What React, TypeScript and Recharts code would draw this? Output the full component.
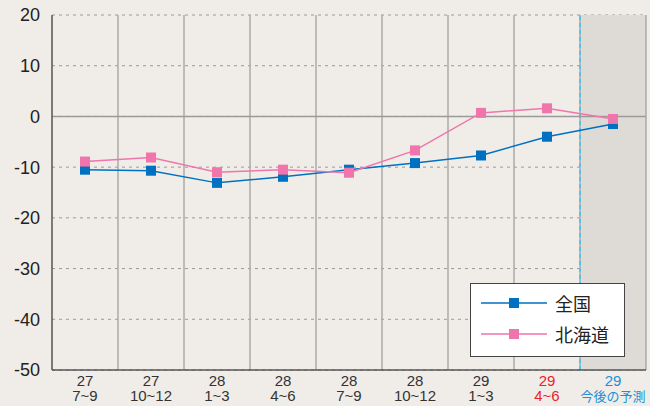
import React from 'react'
import { LineChart, Line, XAxis, YAxis, CartesianGrid, ReferenceLine, ReferenceArea } from 'recharts'

const years = ['27', '27', '28', '28', '28', '28', '29', '29', '29']
const periods = ['7~9', '10~12', '1~3', '4~6', '7~9', '10~12', '1~3', '4~6', '今後の予測']
const national = [-10.5, -10.7, -13.1, -11.9, -10.5, -9.2, -7.7, -4.0, -1.5]
const hokkaido = [-8.9, -8.1, -11.0, -10.5, -11.1, -6.7, 0.7, 1.6, -0.5]
const yTicks = [-50, -40, -30, -20, -10, 0, 10, 20]

const BLUE = '#0070c0'
const PINK = '#f075ab'

const data = years.map((y, i) => ({
  cat: `${y}/${periods[i]}`,
  national: national[i],
  hokkaido: hokkaido[i],
}))

const lastCat = data[data.length - 1].cat

const series = [
  { key: 'national', name: '全国', color: BLUE },
  { key: 'hokkaido', name: '北海道', color: PINK },
]

const tickColor = (i: number) => (i === 7 ? '#e8232c' : i === 8 ? '#1a90d8' : '#333')

const XTick = (props: any) => {
  const { x, y, payload } = props
  const i = payload.index
  const isCjk = /[^\x00-\x7f]/.test(periods[i])
  return (
    <text x={x} y={y} textAnchor="middle" fontSize={15} fill={tickColor(i)} fontFamily="'Liberation Sans', Arial, sans-serif">
      <tspan x={x} dy={8}>{years[i]}</tspan>
      <tspan x={x} dy={15} fontSize={isCjk ? 13 : 15} fontFamily={isCjk ? "'Noto Sans CJK JP', sans-serif" : undefined}>
        {periods[i]}
      </tspan>
    </text>
  )
}

const SquareDot = (color: string) => (props: any) => {
  const { cx, cy, index } = props
  if (cx == null || cy == null) return <g key={index} />
  return <rect key={index} x={cx - 5} y={cy - 5} width={10} height={10} fill={color} />
}

export default function App() {
  return (
    <div style={{ position: 'absolute', left: 0, top: 0, width: 650, height: 406, background: '#f0ede9' }}>
      <LineChart width={650} height={406} data={data} margin={{ top: 15, right: 4, left: 0, bottom: 0 }}>
        <ReferenceArea x1={lastCat} x2={lastCat} fill="#dedbd7" fillOpacity={1} stroke="none" />
        <CartesianGrid vertical={false} stroke="#999" strokeDasharray="3 4" />
        {data.slice(1).map(d => (
          <ReferenceLine key={d.cat} x={d.cat} position="start" stroke="#aaa" strokeWidth={1.5} />
        ))}
        <ReferenceLine x={lastCat} position="end" stroke="#aaa" strokeWidth={1.5} />
        <ReferenceLine x={lastCat} position="start" stroke="#56c1ea" strokeWidth={2} strokeDasharray="4 3" />
        <ReferenceLine y={0} stroke="#9a9a9a" strokeWidth={1.5} />
        <XAxis
          dataKey="cat"
          scale="band"
          height={36}
          tickLine={false}
          axisLine={{ stroke: '#555', strokeWidth: 1.5 }}
          tick={<XTick />}
          interval={0}
        />
        <YAxis
          domain={[-50, 20]}
          ticks={yTicks}
          width={52}
          tickLine={false}
          axisLine={{ stroke: '#555', strokeWidth: 1.5 }}
          tick={{ fontSize: 18, fill: '#222', fontFamily: "'Liberation Sans', Arial, sans-serif" }}
          tickMargin={6}
        />
        {series.map(s => (
          <Line
            key={s.key}
            dataKey={s.key}
            name={s.name}
            stroke={s.color}
            strokeWidth={1.5}
            dot={SquareDot(s.color)}
            activeDot={false}
            isAnimationActive={false}
          />
        ))}
      </LineChart>
      <div
        style={{
          position: 'absolute',
          left: 470,
          top: 283,
          width: 155,
          height: 74,
          background: '#fff',
          border: '1px solid #444',
          boxSizing: 'border-box',
          fontFamily: "'Noto Sans CJK JP', sans-serif",
        }}
      >
        {series.map((s, i) => (
          <div key={s.key} style={{ position: 'absolute', left: 10, top: 8 + i * 31, height: 22, display: 'flex', alignItems: 'center' }}>
            <svg width={66} height={12}>
              <line x1={0} y1={6} x2={66} y2={6} stroke={s.color} strokeWidth={1.5} />
              <rect x={28} y={1} width={10} height={10} fill={s.color} />
            </svg>
            <span style={{ marginLeft: 8, fontSize: 18, color: '#222', lineHeight: '22px' }}>{s.name}</span>
          </div>
        ))}
      </div>
    </div>
  )
}
